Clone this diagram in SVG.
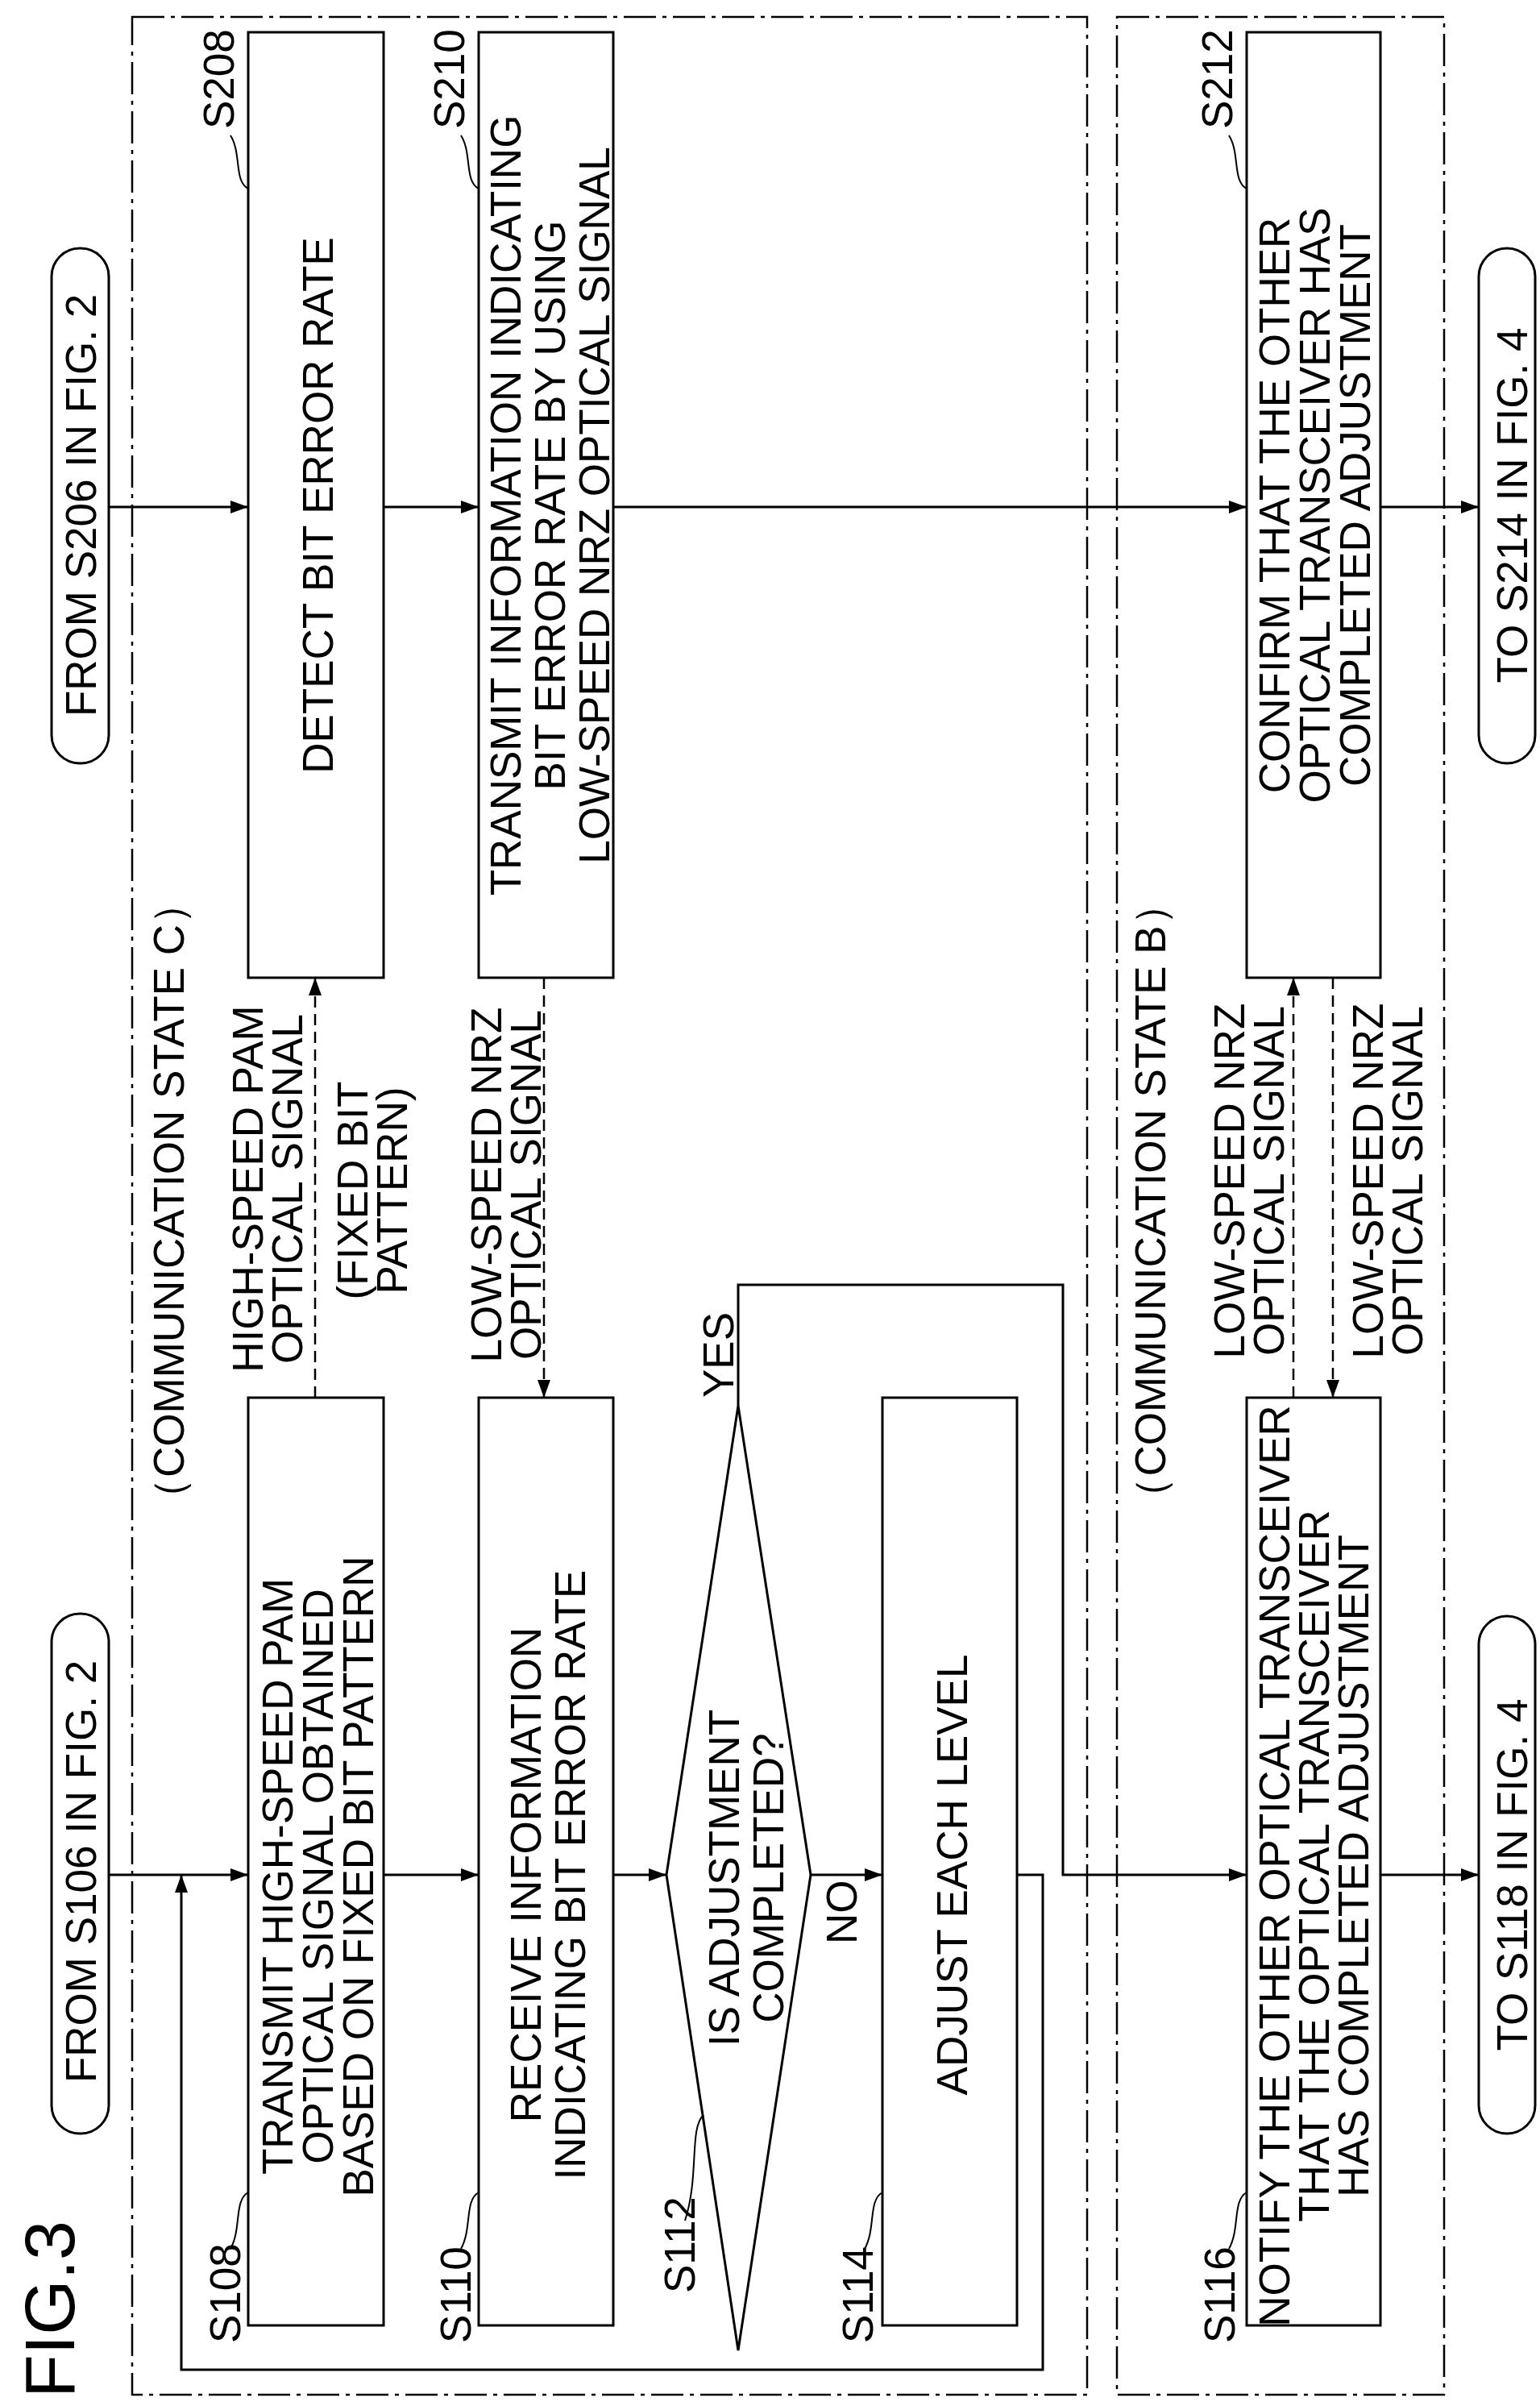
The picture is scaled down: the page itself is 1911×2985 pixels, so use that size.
<svg xmlns="http://www.w3.org/2000/svg" width="1911" height="2985" viewBox="0 0 1911 2985">
<style>
text{font-family:"Liberation Sans",Arial,sans-serif;font-size:53px;fill:#000}
.b{fill:#fff;stroke:#000;stroke-width:3}
.l{fill:none;stroke:#000;stroke-width:3}
.d{fill:none;stroke:#000;stroke-width:2.5;stroke-dasharray:14 8}
.dd{fill:none;stroke:#000;stroke-width:2.5;stroke-dasharray:40 8 5 8}
.m{text-anchor:middle}
</style>
<defs><marker id="a" markerWidth="10" markerHeight="10" refX="10" refY="5" orient="auto" markerUnits="userSpaceOnUse" viewBox="0 0 10 10"><path d="M0,0 L10,5 L0,10 z" fill="#000"/></marker>
<marker id="ab" markerWidth="22" markerHeight="16" refX="22" refY="8" orient="auto" markerUnits="userSpaceOnUse"><path d="M0,0 L22,8 L0,16 z" fill="#000"/></marker></defs>
<rect class="dd" x="164" y="21" width="1185" height="2950"/>
<rect class="dd" x="1386" y="21" width="406" height="2950"/>
<text transform="translate(92,2975) rotate(-90)" style="font-size:88px">FIG.3</text>
<g id="c">
<path class="l" d="M135,629 H308" marker-end="url(#ab)"/>
<path class="l" d="M476,629 H594" marker-end="url(#ab)"/>
<path class="l" d="M761,629 H1547" marker-end="url(#ab)"/>
<path class="l" d="M1713,629 H1835" marker-end="url(#ab)"/>
<path class="l" d="M135,2326 H308" marker-end="url(#ab)"/>
<path class="l" d="M476,2326 H594" marker-end="url(#ab)"/>
<path class="l" d="M761,2326 H827" marker-end="url(#ab)"/>
<path class="l" d="M1006,2326 H1095" marker-end="url(#ab)"/>
<path class="l" d="M916,1744 V1594 H1319 V2326 H1547" marker-end="url(#ab)"/>
<path class="l" d="M1713,2326 H1835" marker-end="url(#ab)"/>
<path class="l" d="M1262,2326 H1294 V2940 H225 V2326" marker-end="url(#ab)"/>
<path class="d" d="M391,1734 V1213" marker-end="url(#ab)"/>
<path class="d" d="M675,1213 V1734" marker-end="url(#ab)"/>
<path class="d" d="M1605,1734 V1213" marker-end="url(#ab)"/>
<path class="d" d="M1654,1213 V1734" marker-end="url(#ab)"/>
<text transform="translate(910,1734) rotate(-90)">YES</text>
<text transform="translate(1063,2412) rotate(-90)">NO</text>
<text class="m" transform="translate(228,1490) rotate(-90)">（COMMUNICATION STATE C）</text>
<text class="m" transform="translate(1446,1490) rotate(-90)">（COMMUNICATION STATE B）</text>
<text class="m" transform="translate(326,1475) rotate(-90)"><tspan x="0">HIGH-SPEED PAM</tspan><tspan x="0" dy="49">OPTICAL SIGNAL</tspan></text>
<text class="m" transform="translate(456,1477) rotate(-90)"><tspan x="0">(FIXED BIT</tspan><tspan x="0" dy="49">PATTERN)</tspan></text>
<text class="m" transform="translate(622,1470) rotate(-90)"><tspan x="0">LOW-SPEED NRZ</tspan><tspan x="0" dy="49">OPTICAL SIGNAL</tspan></text>
<text class="m" transform="translate(1544,1465) rotate(-90)"><tspan x="0">LOW-SPEED NRZ</tspan><tspan x="0" dy="49">OPTICAL SIGNAL</tspan></text>
<text class="m" transform="translate(1716,1465) rotate(-90)"><tspan x="0">LOW-SPEED NRZ</tspan><tspan x="0" dy="49">OPTICAL SIGNAL</tspan></text>
</g>
<g id="t1"><rect class="b" x="64" y="308" width="71" height="639" rx="35"/><text class="m" transform="translate(119,627) rotate(-90)">FROM S206 IN FIG. 2</text></g>
<g id="t2"><rect class="b" x="1835" y="308" width="70" height="639" rx="35"/><text class="m" transform="translate(1895,627) rotate(-90)">TO S214 IN FIG. 4</text></g>
<g id="t3"><rect class="b" x="64" y="2002" width="71" height="645" rx="35"/><text class="m" transform="translate(119,2322) rotate(-90)">FROM S106 IN FIG. 2</text></g>
<g id="t4"><rect class="b" x="1835" y="2005" width="70" height="642" rx="35"/><text class="m" transform="translate(1895,2326) rotate(-90)">TO S118 IN FIG. 4</text></g>
<g id="s208"><rect class="b" x="308" y="40" width="168" height="1173"/><text class="m" transform="translate(413,627) rotate(-90)">DETECT BIT ERROR RATE</text>
<path class="l" d="M308,234 C290,225 300,190 286,168" style="stroke-width:2"/><text transform="translate(290,160) rotate(-90)">S208</text></g>
<g id="s210"><rect class="b" x="594" y="40" width="167" height="1173"/><text class="m" transform="translate(646,627) rotate(-90)"><tspan x="0">TRANSMIT INFORMATION INDICATING</tspan><tspan x="0" dy="55">BIT ERROR RATE BY USING</tspan><tspan x="0" dy="55">LOW-SPEED NRZ OPTICAL SIGNAL</tspan></text>
<path class="l" d="M594,234 C576,225 586,190 572,168" style="stroke-width:2"/><text transform="translate(576,160) rotate(-90)">S210</text></g>
<g id="s212"><rect class="b" x="1547" y="40" width="166" height="1173"/><text class="m" transform="translate(1600,627) rotate(-90)"><tspan x="0">CONFIRM THAT THE OTHER</tspan><tspan x="0" dy="50">OPTICAL TRANSCEIVER HAS</tspan><tspan x="0" dy="50">COMPLETED ADJUSTMENT</tspan></text>
<path class="l" d="M1547,234 C1529,225 1539,190 1525,168" style="stroke-width:2"/><text transform="translate(1529,160) rotate(-90)">S212</text></g>
<g id="s108"><rect class="b" x="308" y="1734" width="168" height="1151"/><text class="m" transform="translate(363,2328) rotate(-90)"><tspan x="0">TRANSMIT HIGH-SPEED PAM</tspan><tspan x="0" dy="50">OPTICAL SIGNAL OBTAINED</tspan><tspan x="0" dy="50">BASED ON FIXED BIT PATTERN</tspan></text>
<path class="l" d="M308,2720 C290,2730 300,2765 286,2790" style="stroke-width:2"/><text transform="translate(298,2907) rotate(-90)">S108</text></g>
<g id="s110"><rect class="b" x="594" y="1734" width="167" height="1151"/><text class="m" transform="translate(671,2326) rotate(-90)"><tspan x="0">RECEIVE INFORMATION</tspan><tspan x="0" dy="55">INDICATING BIT ERROR RATE</tspan></text>
<path class="l" d="M594,2720 C576,2730 586,2765 572,2790" style="stroke-width:2"/><text transform="translate(584,2907) rotate(-90)">S110</text></g>
<g id="s112"><polygon class="b" points="916,1744 1006,2326 916,2916 827,2326"/><text class="m" transform="translate(917,2330) rotate(-90)"><tspan x="0">IS ADJUSTMENT</tspan><tspan x="0" dy="55">COMPLETED?</tspan></text>
<path class="l" d="M873,2624 C855,2640 868,2700 850,2755" style="stroke-width:2"/><text transform="translate(862,2845) rotate(-90)">S112</text></g>
<g id="s114"><rect class="b" x="1095" y="1734" width="167" height="1151"/><text class="m" transform="translate(1200,2326) rotate(-90)">ADJUST EACH LEVEL</text>
<path class="l" d="M1095,2720 C1077,2730 1087,2765 1073,2790" style="stroke-width:2"/><text transform="translate(1083,2907) rotate(-90)">S114</text></g>
<g id="s116"><rect class="b" x="1547" y="1734" width="166" height="1151"/><text class="m" transform="translate(1600,2315) rotate(-90)"><tspan x="0">NOTIFY THE OTHER OPTICAL TRANSCEIVER</tspan><tspan x="0" dy="49">THAT THE OPTICAL TRANSCEIVER</tspan><tspan x="0" dy="49">HAS COMPLETED ADJUSTMENT</tspan></text>
<path class="l" d="M1547,2720 C1529,2730 1539,2765 1525,2790" style="stroke-width:2"/><text transform="translate(1532,2907) rotate(-90)">S116</text></g>
</svg>
